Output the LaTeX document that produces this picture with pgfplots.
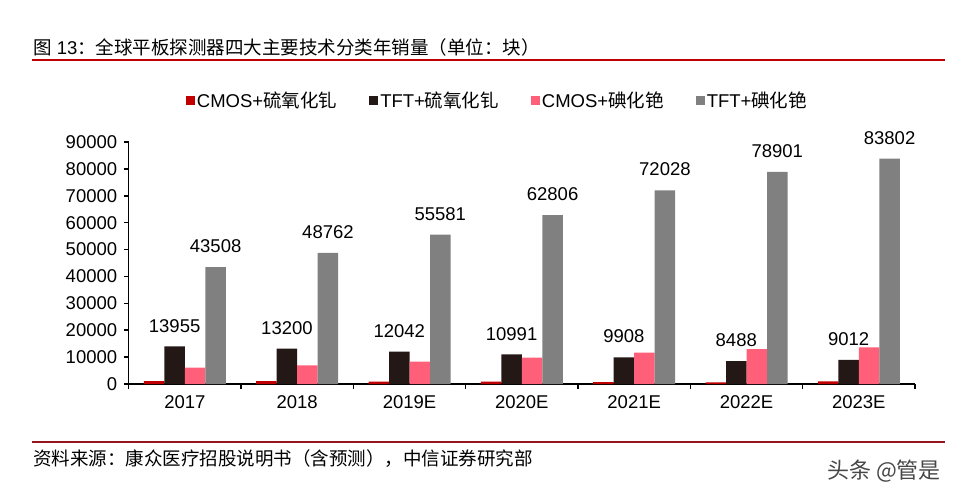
\documentclass[border=0pt]{standalone}
\usepackage{fontspec}
\setmainfont{Liberation Sans}
\newfontfamily\cjk{Noto Sans CJK SC}
\usepackage{pgfplots}
\pgfplotsset{compat=1.18}

\definecolor{cgos}{RGB}{192,0,0}
\definecolor{tgos}{RGB}{35,24,22}
\definecolor{ccsi}{RGB}{255,95,120}
\definecolor{tcsi}{RGB}{128,128,128}
\definecolor{linered}{RGB}{192,0,0}
\definecolor{footred}{RGB}{150,20,30}

\pgfplotsset{
  sq/.style={legend image code/.code={\fill[##1,draw=none] (0pt,-4.5pt) rectangle (9pt,4.5pt);}},
}

\begin{document}
\begin{tikzpicture}[font=\fontsize{18.5}{22}\selectfont]
\path[use as bounding box] (0,0) rectangle (963pt,-497pt);
\node[anchor=west, inner sep=0pt] at (33pt,-47pt)
  {{\cjk 图} 13{\cjk ：全球平板探测器四大主要技术分类年销量（单位：块）}};
\draw[linered, line width=2pt] (32pt,-60pt) -- (945pt,-60pt);

\begin{axis}[
  at={(128.7pt,-384pt)}, anchor=south west,
  width=786.3pt, height=242pt, scale only axis,
  ybar=0pt, bar width=20.5pt,
  xmin=-0.5, xmax=6.5, ymin=0, ymax=90000,
  axis x line*=bottom, axis y line*=left,
  axis line style={line width=1.5pt},
  tick align=outside, major tick length=5pt,
  tick style={black, line width=1.5pt},
  xtick={-0.5,0.5,...,6.5},
  x tick label as interval,
  xticklabels={2017,2018,2019E,2020E,2021E,2022E,2023E},
  ytick={0,10000,...,90000},
  scaled y ticks=false,
  /pgf/number format/fixed,
  /pgf/number format/precision=0,
  /pgf/number format/1000 sep={},
  /pgf/number format/assume math mode=true,
  xticklabel style={yshift=-3pt},
  yticklabel style={xshift=-3pt},
  nodes near coords style={anchor=south, inner sep=0pt, yshift=14pt, black},
  legend style={at={(0.469,1.1736)}, anchor=center, draw=none, fill=none,
    legend columns=4, /tikz/every even column/.append style={column sep=30pt}},
]
\addplot[fill=cgos, draw=none, sq] coordinates {
  (0,1100) (1,1050) (2,900) (3,850) (4,700) (5,600) (6,950)};
\addplot[fill=tgos, draw=none, sq, nodes near coords] coordinates {
  (0,13955) (1,13200) (2,12042) (3,10991) (4,9908) (5,8488) (6,9012)};
\addplot[fill=ccsi, draw=none, sq] coordinates {
  (0,6060) (1,6950) (2,8290) (3,9780) (4,11640) (5,13000) (6,13640)};
\addplot[fill=tcsi, draw=none, sq, nodes near coords] coordinates {
  (0,43508) (1,48762) (2,55581) (3,62806) (4,72028) (5,78901) (6,83802)};
\legend{CMOS+{\cjk 硫氧化钆}, TFT+{\cjk 硫氧化钆}, CMOS+{\cjk 碘化铯}, TFT+{\cjk 碘化铯}}
\end{axis}

\draw[footred, line width=2pt] (32pt,-442pt) -- (945pt,-442pt);
\node[anchor=west, inner sep=0pt] at (33pt,-459pt)
  {\cjk 资料来源：康众医疗招股说明书（含预测），中信证券研究部};
\node[text=black!72, font=\cjk\fontsize{22}{24}\selectfont] at (884pt,-471pt) {头条 @管是};
\end{tikzpicture}
\end{document}
